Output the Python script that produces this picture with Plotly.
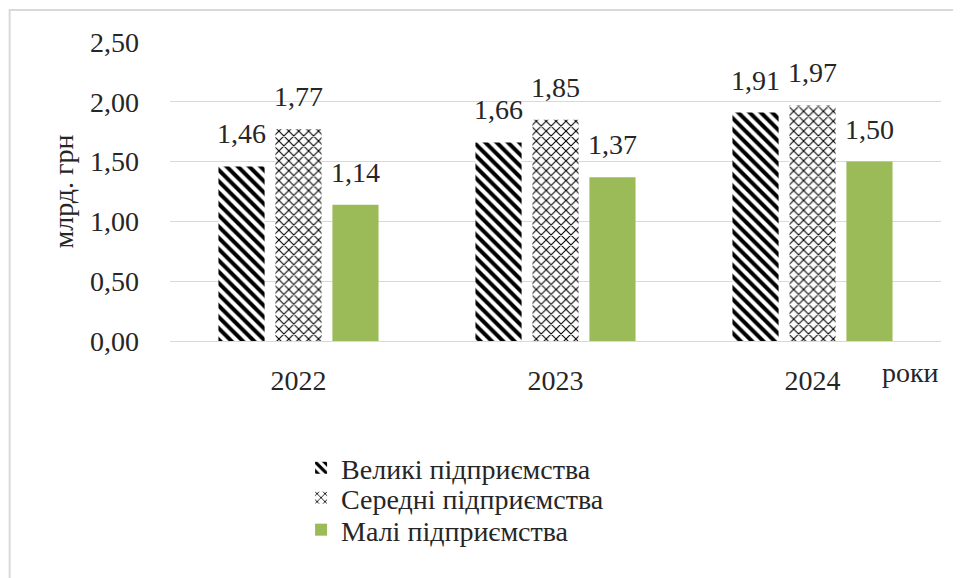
import plotly.graph_objects as go

years = ["2022", "2023", "2024"]
velyki = [1.46, 1.66, 1.91]
seredni = [1.77, 1.85, 1.97]
mali = [1.14, 1.37, 1.50]
names = ["Великі підприємства", "Середні підприємства", "Малі підприємства"]

font_family = "Liberation Serif"


def fmt(vals):
    return [f"{v:.2f}".replace(".", ",") for v in vals]


fig = go.Figure()

# бари
fig.add_trace(go.Bar(
    x=years, y=velyki, name=names[0], legend="legend", offsetgroup="1",
    marker=dict(color="white", line=dict(width=0),
                pattern=dict(shape="\\", fgcolor="black", bgcolor="white",
                             fgopacity=1, size=8, solidity=0.5)),
))
fig.add_trace(go.Bar(
    x=years, y=seredni, name=names[1], legend="legend2", offsetgroup="2",
    marker=dict(color="white", line=dict(width=0),
                pattern=dict(shape="x", fgcolor="black", bgcolor="white",
                             fgopacity=1, size=7, solidity=0.28)),
))
fig.add_trace(go.Bar(
    x=years, y=mali, name=names[2], legend="legend3", offsetgroup="3",
    marker=dict(color="#9BBB59", line=dict(width=0)),
))

# підписи даних
for i, vals in enumerate([velyki, seredni, mali]):
    fig.add_trace(go.Scatter(
        x=years, y=vals, mode="markers+text", text=fmt(vals),
        textposition="top center", offsetgroup=str(i + 1),
        textfont=dict(family=font_family, size=28, color="#262626"),
        marker=dict(size=24, opacity=0),
        showlegend=False, hoverinfo="skip", cliponaxis=False,
    ))

leg = dict(x=0.17, xanchor="left", yanchor="middle", orientation="v",
           font=dict(size=28, color="#262626"), itemwidth=30,
           bgcolor="rgba(0,0,0,0)")

fig.update_layout(
    width=953, height=570,
    margin=dict(l=162, r=20, t=34, b=237),
    paper_bgcolor="white", plot_bgcolor="white",
    font=dict(family=font_family, size=28, color="#262626"),
    separators=", ",
    barmode="group", bargap=0.335, bargroupgap=0.19,
    scattermode="group", scattergap=0.335,
    showlegend=True,
    hovermode=False,
    legend=dict(leg, y=-0.425),
    legend2=dict(leg, y=-0.525),
    legend3=dict(leg, y=-0.632),
    xaxis=dict(showgrid=False, showline=True, linecolor="#d9d9d9", linewidth=1,
               ticks="", ticklabelstandoff=14,
               tickfont=dict(size=28)),
    yaxis=dict(range=[0, 2.5], dtick=0.5, tickformat=".2f",
               showgrid=True, gridcolor="#d9d9d9", gridwidth=1,
               zeroline=False, showline=False, ticks="",
               ticklabelstandoff=30, tickfont=dict(size=28),
               title=dict(text="млрд. грн", standoff=8, font=dict(size=28))),
    annotations=[dict(text="роки", x=0.96, y=-0.107, xref="paper", yref="paper",
                      showarrow=False, font=dict(size=28), xanchor="center",
                      yanchor="middle")],
    shapes=[dict(type="rect", xref="paper", yref="paper",
                 x0=-0.208, x1=1.05, y0=-0.9, y1=1.107,
                 line=dict(color="#d9d9d9", width=2), layer="below")],
)

fig.write_html("out.html")
